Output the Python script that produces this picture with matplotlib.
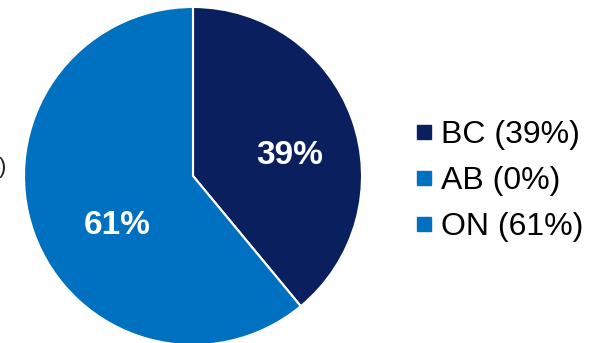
import matplotlib
matplotlib.use("Agg")
import matplotlib.pyplot as plt
from matplotlib.lines import Line2D
import numpy as np

categories = ["BC", "AB", "ON"]
values = [39, 0, 61]
colors = ["#0a205e", "#0070c0", "#0070c0"]
legend_labels = ["BC (39%)", "AB (0%)", "ON (61%)"]

plt.rcParams['font.family'] = ['Liberation Sans', 'DejaVu Sans']

W, H = 592, 343
fig = plt.figure(figsize=(W / 100, H / 100), dpi=100)

cx, cy, r = 193, 176, 169
ax = fig.add_axes([(cx - r) / W, (H - cy - r) / H, 2 * r / W, 2 * r / H])
wedges, _ = ax.pie(values, colors=colors, startangle=90, counterclock=False,
                   wedgeprops=dict(edgecolor="white", linewidth=1.5))
ax.set_xlim(-1, 1)
ax.set_ylim(-1, 1)
ax.set_aspect("equal")
ax.axis("off")

# percentage labels
ax.text(97 / r, 20 / r, "39%", color="white", fontsize=24, fontweight="bold",
        ha="center", va="center")
ax.text(-76 / r, -50 / r, "61%", color="white", fontsize=24, fontweight="bold",
        ha="center", va="center")

# cropped text fragment at left edge
fig.text(-1 / W, 1 - 167 / H, ")", fontsize=16, ha="left", va="center", color="#222222")

handles = [Line2D([0], [0], marker="s", linestyle="none", markersize=10.5,
                  markerfacecolor=c, markeredgecolor=c) for c in colors]
leg = fig.legend(handles, legend_labels, loc="center left",
                 bbox_to_anchor=(417 / W, 1 - 181 / H), frameon=False,
                 fontsize=23, handlelength=0.45, handletextpad=0.3,
                 labelspacing=0.5, borderpad=0, borderaxespad=0)

fig.savefig("out.png", dpi=100)
